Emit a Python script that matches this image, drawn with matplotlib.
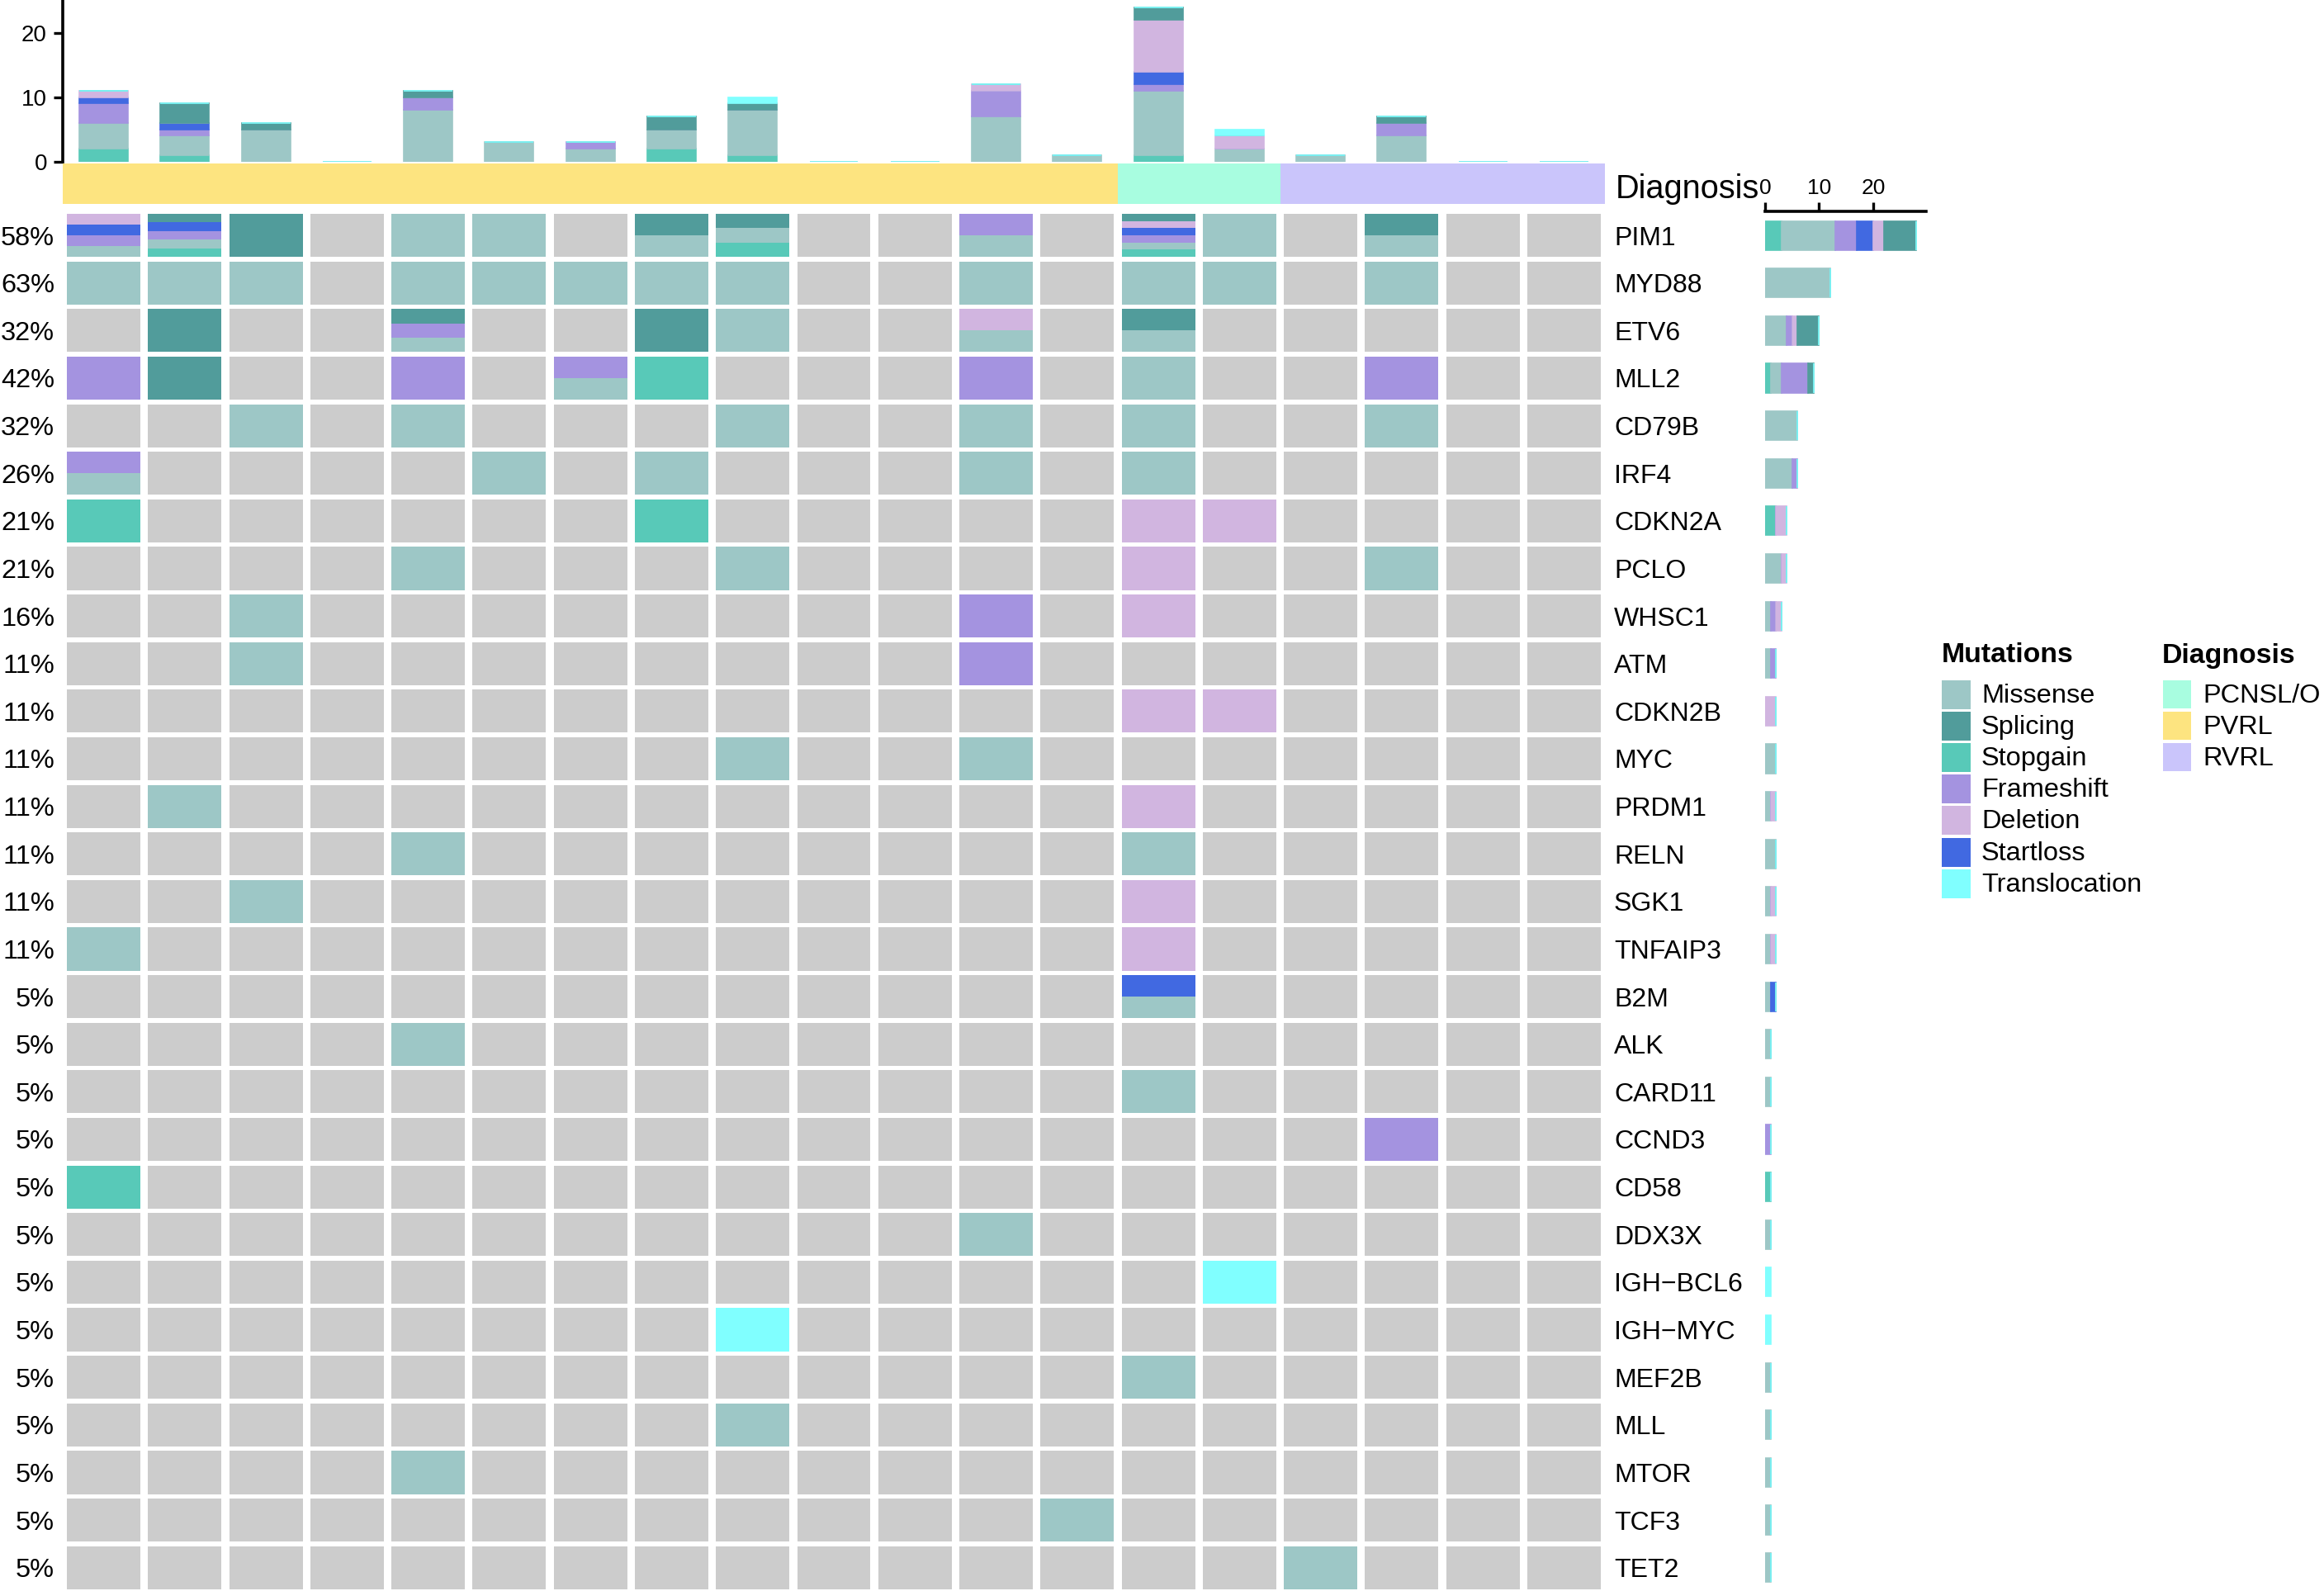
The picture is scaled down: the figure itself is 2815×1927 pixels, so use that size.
import matplotlib
matplotlib.use('Agg')
import matplotlib.pyplot as plt
from matplotlib.patches import Rectangle
import matplotlib.transforms as mtransforms

plt.rcParams['font.family'] = ['Liberation Sans', 'DejaVu Sans']

# ---------------- data ----------------
genes = ["PIM1", "MYD88", "ETV6", "MLL2", "CD79B", "IRF4", "CDKN2A", "PCLO",
         "WHSC1", "ATM", "CDKN2B", "MYC", "PRDM1", "RELN", "SGK1", "TNFAIP3",
         "B2M", "ALK", "CARD11", "CCND3", "CD58", "DDX3X", "IGH\u2212BCL6",
         "IGH\u2212MYC", "MEF2B", "MLL", "MTOR", "TCF3", "TET2"]

# sample:codes  (S=Stopgain M=Missense F=Frameshift A=Startloss D=Deletion P=Splicing T=Translocation)
calls = [
    "1:MFAD 2:SMFAP 3:P 5:M 6:M 8:MP 9:SMP 12:MF 14:SMFADP 15:M 17:MP",
    "1:M 2:M 3:M 5:M 6:M 7:M 8:M 9:M 12:M 14:M 15:M 17:M",
    "2:P 5:MFP 8:P 9:M 12:MD 14:MP",
    "1:F 2:P 5:F 7:MF 8:S 12:F 14:M 17:F",
    "3:M 5:M 9:M 12:M 14:M 17:M",
    "1:MF 6:M 8:M 12:M 14:M",
    "1:S 8:S 14:D 15:D",
    "5:M 9:M 14:D 17:M",
    "3:M 12:F 14:D",
    "3:M 12:F",
    "14:D 15:D",
    "9:M 12:M",
    "2:M 14:D",
    "5:M 14:M",
    "3:M 14:D",
    "1:M 14:D",
    "14:MA",
    "5:M",
    "14:M",
    "17:F",
    "1:S",
    "12:M",
    "15:T",
    "9:T",
    "14:M",
    "9:M",
    "5:M",
    "13:M",
    "16:M",
]

n_samples = 19
diagnosis = ["PVRL", "PVRL", "PVRL", "PVRL", "PVRL", "PVRL", "PVRL", "PVRL",
             "PVRL", "PVRL", "PVRL", "PVRL", "PVRL", "PCNSL/O", "PCNSL/O",
             "RVRL", "RVRL", "RVRL", "RVRL"]

legend_mut = ["Missense", "Splicing", "Stopgain", "Frameshift", "Deletion",
              "Startloss", "Translocation"]
stack_order = ["Stopgain", "Missense", "Frameshift", "Startloss", "Deletion",
               "Splicing", "Translocation"]
code_map = {"S": "Stopgain", "M": "Missense", "F": "Frameshift", "A": "Startloss",
            "D": "Deletion", "P": "Splicing", "T": "Translocation"}
mut_colors = {"Missense": "#9DC7C6", "Splicing": "#519C9B", "Stopgain": "#58C9B8",
              "Frameshift": "#A493E0", "Deletion": "#D1B5E0", "Startloss": "#4169E1",
              "Translocation": "#80FFFF"}
diag_levels = ["PCNSL/O", "PVRL", "RVRL"]
diag_colors = {"PCNSL/O": "#A8FDE0", "PVRL": "#FDE480", "RVRL": "#CAC5FB"}
bg_color = "#CCCCCC"

# parse calls into matrix of type lists
matrix = []
for row in calls:
    cells = [[] for _ in range(n_samples)]
    for tok in row.split():
        s, codes = tok.split(":")
        cells[int(s) - 1] = [code_map[c] for c in codes]
    matrix.append(cells)

# counts
sample_counts = {t: [sum(t in matrix[g][s] for g in range(len(genes)))
                     for s in range(n_samples)] for t in stack_order}
gene_counts = {t: [sum(t in matrix[g][s] for s in range(n_samples))
                   for g in range(len(genes))] for t in stack_order}
pct = [round(100 * sum(1 for c in matrix[g] if c) / n_samples) for g in range(len(genes))]

# ---------------- layout ----------------
W, H = 2815, 1927
fig = plt.figure(figsize=(W / 200, H / 200), dpi=200)


def px_axes(l, t, r, b):
    return fig.add_axes([l / W, 1 - b / H, (r - l) / W, (b - t) / H])


GL, GR, GT, GB = 76.4, 1943.6, 256.3, 1927.5
cell_frac = 0.905

# main grid
ax = px_axes(GL, GT, GR, GB)
ax.set_xlim(0, n_samples)
ax.set_ylim(len(genes), 0)
ax.axis("off")
pad = (1 - cell_frac) / 2
for g in range(len(genes)):
    for s in range(n_samples):
        ax.add_patch(Rectangle((s + pad, g + pad), cell_frac, cell_frac,
                               facecolor=bg_color, edgecolor="none"))
        types = [t for t in stack_order if t in matrix[g][s]]
        k = len(types)
        for m, t in enumerate(types):
            h = cell_frac / k
            y0 = g + pad + cell_frac - (m + 1) * h
            ax.add_patch(Rectangle((s + pad, y0), cell_frac, h,
                                   facecolor=mut_colors[t], edgecolor="none"))

# labels
trans_l = mtransforms.blended_transform_factory(fig.transFigure, ax.transData)
for g in range(len(genes)):
    ax.text(66 / W, g + 0.56, f"{pct[g]}%", transform=trans_l, ha="right",
            va="center", fontsize=11.7)
    ax.text(1955 / W, g + 0.56, genes[g], transform=trans_l, ha="left",
            va="center", fontsize=11.5)

# top barplot
axt = px_axes(GL, 0, GR, 195.6)
axt.set_xlim(0, n_samples)
axt.set_ylim(0, 25.1)
xs = [s + 0.5 for s in range(n_samples)]
bottom = [0] * n_samples
for t in stack_order:
    vals = sample_counts[t]
    axt.bar(xs, vals, width=0.6, bottom=bottom, color=mut_colors[t],
            edgecolor=mut_colors[t], linewidth=0.6)
    bottom = [b + v for b, v in zip(bottom, vals)]
for sp in ["top", "right", "bottom"]:
    axt.spines[sp].set_visible(False)
axt.spines["left"].set_linewidth(1.3)
axt.set_xticks([])
axt.set_yticks([0, 10, 20])
axt.tick_params(axis="y", labelsize=10, length=4, width=1.2, pad=3)

# diagnosis bar
axd = px_axes(GL, 198, GR, 247)
axd.set_xlim(0, n_samples)
axd.set_ylim(0, 1)
axd.bar(xs, [1] * n_samples, width=1.0, color=[diag_colors[d] for d in diagnosis],
        linewidth=0)
axd.axis("off")
fig.text(1957 / W, 1 - 229 / H, "Diagnosis", ha="left", va="center", fontsize=14.3)

# right barplot
axr = px_axes(2138, GT, 2333, GB)
axr.set_xlim(0, 29.8)
axr.set_ylim(len(genes), 0)
ys = [g + 0.5 for g in range(len(genes))]
left = [0] * len(genes)
for t in stack_order:
    vals = gene_counts[t]
    axr.barh(ys, vals, height=0.61, left=left, color=mut_colors[t],
             edgecolor=mut_colors[t], linewidth=0.6)
    left = [a + v for a, v in zip(left, vals)]
for sp in ["bottom", "right", "left"]:
    axr.spines[sp].set_visible(False)
axr.spines["top"].set_linewidth(1.3)
axr.set_yticks([])
axr.set_xticks([0, 10, 20])
axr.xaxis.set_ticks_position("top")
axr.xaxis.set_label_position("top")
axr.tick_params(axis="x", labelsize=9.5, length=4, width=1.2, pad=2)

# legends
axl = px_axes(0, 0, W, H)
axl.set_xlim(0, W)
axl.set_ylim(H, 0)
axl.axis("off")
axl.patch.set_alpha(0)
axl.text(2352, 794, "Mutations", fontsize=12.2, fontweight="bold", ha="left", va="center")
for i, t in enumerate(legend_mut):
    y0 = 824 + i * 38.1
    axl.add_patch(Rectangle((2352, y0), 35, 35, facecolor=mut_colors[t], edgecolor="none"))
    axl.text(2400, y0 + 19, t, fontsize=11.7, ha="left", va="center")
axl.text(2619, 794, "Diagnosis", fontsize=12.2, fontweight="bold", ha="left", va="center")
for i, d in enumerate(diag_levels):
    y0 = 824 + i * 38.1
    axl.add_patch(Rectangle((2620, y0), 34, 34, facecolor=diag_colors[d], edgecolor="none"))
    axl.text(2668, y0 + 19, d, fontsize=11.7, ha="left", va="center")

fig.savefig("out.png", dpi=200)
